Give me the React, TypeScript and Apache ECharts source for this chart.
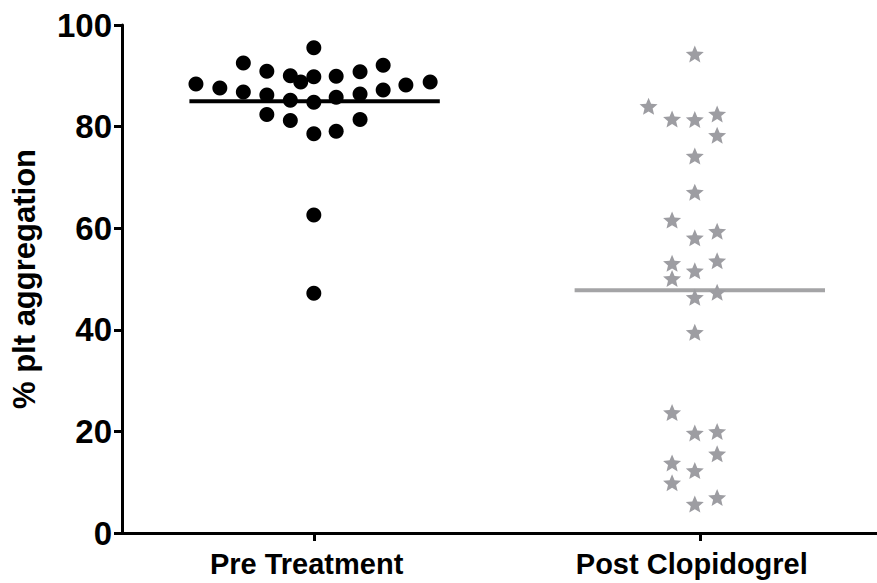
import React, { useEffect, useRef } from "react";
import * as echarts from "echarts";

// Group names shown under the x axis, placed at x = 1 and x = 2
const categories = ["Pre Treatment", "Post Clopidogrel"];
const categoryPositions = [1, 2];

// Pre treatment: % platelet aggregation and horizontal (swarm) position
const preValues = [
  95.5, 92.5, 92.1, 90.9, 90.8, 90.0, 89.8, 89.9, 88.8, 88.4, 88.8, 87.6, 88.2, 86.8,
  87.2, 86.2, 86.4, 85.2, 85.8, 84.8, 82.4, 81.4, 81.2, 78.6, 79.1, 62.6, 47.2,
];
const preX = [
  0.998, 0.815, 1.178, 0.876, 1.118, 0.937, 0.998, 1.056, 0.964, 0.692, 1.3, 0.754, 1.237, 0.815,
  1.178, 0.876, 1.118, 0.937, 1.056, 0.998, 0.876, 1.118, 0.937, 0.998, 1.056, 0.998, 0.998,
];

// Post clopidogrel: % platelet aggregation and horizontal (swarm) position
const postValues = [
  94.3, 84.0, 81.5, 81.4, 82.5, 78.3, 74.2, 67.1, 61.6, 58.1, 59.4, 53.1, 53.6, 51.6,
  50.1, 47.4, 46.4, 39.5, 23.7, 19.7, 20.0, 15.6, 13.8, 12.3, 9.9, 7.0, 5.7,
];
const postX = [
  1.987, 1.867, 1.928, 1.987, 2.045, 2.045, 1.987, 1.987, 1.928, 1.987, 2.045, 1.928, 2.045, 1.987,
  1.928, 2.045, 1.987, 1.987, 1.928, 1.987, 2.045, 2.045, 1.928, 1.987, 1.928, 2.045, 1.987,
];

// Group means drawn as horizontal bars
const groupMeans = [85.0, 47.8];

const yTicks = [0, 20, 40, 60, 80, 100];

const MEAN_HALF_WIDTH = 0.325;
const FONT = "'Liberation Sans', Arial, Helvetica, sans-serif";

// Five-pointed star outline used as the marker of the second group
function starPath(): string {
  const pts: string[] = [];
  for (let i = 0; i < 10; i++) {
    const r = i % 2 === 0 ? 1 : 0.45;
    const a = -Math.PI / 2 + (i * Math.PI) / 5;
    pts.push(`${(r * Math.cos(a)).toFixed(4)} ${(r * Math.sin(a)).toFixed(4)}`);
  }
  return "path://M" + pts.join(" L") + " Z";
}

export default function App() {
  const ref = useRef<HTMLDivElement>(null);

  useEffect(() => {
    if (!ref.current) return;
    const chart = echarts.init(ref.current, null, { renderer: "svg" });

    const meanLine = (gi: number) => [
      [categoryPositions[gi] - MEAN_HALF_WIDTH, groupMeans[gi]],
      [categoryPositions[gi] + MEAN_HALF_WIDTH, groupMeans[gi]],
    ];

    chart.setOption({
      animation: false,
      backgroundColor: "#ffffff",
      grid: { left: 122, right: 0, top: 25, bottom: 50, containLabel: false },
      xAxis: {
        type: "value",
        min: 0.5,
        max: 2.46,
        splitLine: { show: false },
        axisLine: { show: true, onZero: false, lineStyle: { color: "#000", width: 3 } },
        axisTick: {
          show: true,
          customValues: categoryPositions,
          length: 8,
          lineStyle: { color: "#000", width: 3 },
        },
        axisLabel: {
          show: true,
          customValues: categoryPositions,
          formatter: (v: number) => {
            const i = categoryPositions.indexOf(Math.round(v));
            return i >= 0 ? categories[i] : "";
          },
          color: "#000",
          fontWeight: "bold",
          fontSize: 29,
          fontFamily: FONT,
          margin: 16,
          padding: [0, 16, 0, 0],
        },
      },
      yAxis: {
        type: "value",
        min: yTicks[0],
        max: yTicks[yTicks.length - 1],
        interval: 20,
        name: "% plt aggregation",
        nameLocation: "middle",
        nameRotate: 90,
        nameGap: 82,
        nameTextStyle: { color: "#000", fontWeight: "bold", fontSize: 31, fontFamily: FONT },
        splitLine: { show: false },
        axisLine: { show: true, lineStyle: { color: "#000", width: 3 } },
        axisTick: { show: true, length: 8, lineStyle: { color: "#000", width: 3 } },
        axisLabel: {
          color: "#000",
          fontWeight: "bold",
          fontSize: 33,
          fontFamily: FONT,
          margin: 10,
        },
      },
      series: [
        {
          name: "Pre mean",
          type: "line",
          data: meanLine(0),
          symbol: "none",
          lineStyle: { color: "#000", width: 4 },
          z: 1,
          silent: true,
        },
        {
          name: "Post mean",
          type: "line",
          data: meanLine(1),
          symbol: "none",
          lineStyle: { color: "#a4a4a6", width: 4 },
          z: 1,
          silent: true,
        },
        {
          name: categories[0],
          type: "scatter",
          data: preValues.map((v, i) => [preX[i], v]),
          symbol: "circle",
          symbolSize: 15,
          itemStyle: { color: "#000", opacity: 1 },
          z: 3,
        },
        {
          name: categories[1],
          type: "scatter",
          data: postValues.map((v, i) => [postX[i], v]),
          symbol: starPath(),
          symbolSize: [18, 17],
          itemStyle: { color: "#9d9da2", opacity: 1 },
          z: 3,
        },
      ],
    });

    return () => chart.dispose();
  }, []);

  return <div ref={ref} style={{ width: 877, height: 583, position: "absolute", left: 0, top: 0 }} />;
}
